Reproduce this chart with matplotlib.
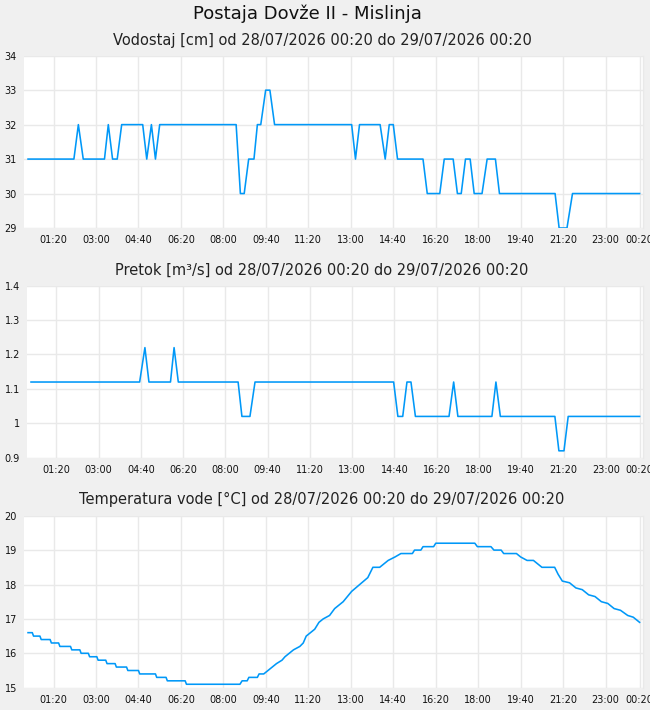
import matplotlib
matplotlib.use("Agg")
import matplotlib.pyplot as plt

# ---------------- data (minutes after 28/07/2026 00:20) ----------------
tick_minutes = [60, 160, 260, 360, 460, 560, 660, 760, 860, 960, 1060, 1160, 1260, 1360, 1440]
tick_labels = ["01:20", "03:00", "04:40", "06:20", "08:00", "09:40", "11:20", "13:00",
               "14:40", "16:20", "18:00", "19:40", "21:20", "23:00", "00:20"]

level_t = [0, 108, 118.5, 130, 180, 189, 199, 210, 220.5, 270, 279.5, 290.5, 300, 310,
           490, 500, 509, 519.5, 532, 540, 548, 559.5, 569.5, 580.5, 762, 771, 780.5,
           829, 841, 850.5, 860, 870, 930, 940, 969.5, 980, 1001, 1011, 1020, 1030,
           1041, 1050.5, 1069, 1081, 1100.5, 1110, 1241, 1250.5, 1269, 1282, 1440]
level_v = [31, 31, 32, 31, 31, 32, 31, 31, 32, 32, 31, 32, 31, 32,
           32, 30, 30, 31, 31, 32, 32, 33, 33, 32, 32, 31, 32,
           32, 31, 32, 32, 31, 31, 30, 30, 31, 31, 30, 30, 31,
           31, 30, 30, 31, 31, 30, 30, 29, 29, 30, 30]

flow_t = [0, 257, 269.5, 279, 330, 338.5, 348.5, 490, 499, 518, 530, 858, 868, 879.5,
          889.5, 899, 909.5, 989, 1000, 1010, 1090.5, 1100, 1110.5, 1239.5, 1249, 1261,
          1271, 1440]
flow_v = [1.12, 1.12, 1.22, 1.12, 1.12, 1.22, 1.12, 1.12, 1.02, 1.02, 1.12, 1.12, 1.02, 1.02,
          1.12, 1.12, 1.02, 1.02, 1.12, 1.02, 1.02, 1.12, 1.02, 1.02, 0.92, 0.92,
          1.02, 1.02]

temp_t = [0, 10, 13, 28, 31, 52, 55, 72, 75, 100, 103, 122, 125, 142, 145, 162, 165, 183,
          186, 205, 208, 232, 235, 260, 263, 300, 303, 325, 328, 370, 373, 499, 504, 516,
          520, 540, 544, 555, 565, 575, 585, 598, 605, 615, 625, 640, 648, 655, 665, 675,
          685, 695, 710, 722, 742, 762, 781, 800, 812, 828, 848, 864, 878, 905, 910, 925,
          930, 955, 960, 1052, 1058, 1090, 1097, 1114, 1120, 1150, 1160, 1175, 1190, 1200,
          1210, 1240, 1248, 1258, 1275, 1290, 1305, 1320, 1335, 1350, 1365, 1380, 1395,
          1412, 1425, 1440]
temp_v = [16.6, 16.6, 16.5, 16.5, 16.4, 16.4, 16.3, 16.3, 16.2, 16.2, 16.1, 16.1, 16.0, 16.0,
          15.9, 15.9, 15.8, 15.8, 15.7, 15.7, 15.6, 15.6, 15.5, 15.5, 15.4, 15.4, 15.3, 15.3,
          15.2, 15.2, 15.1, 15.1, 15.2, 15.2, 15.3, 15.3, 15.4, 15.4, 15.5, 15.6, 15.7, 15.8,
          15.9, 16.0, 16.1, 16.2, 16.3, 16.5, 16.6, 16.7, 16.9, 17.0, 17.1, 17.3, 17.5, 17.8,
          18.0, 18.2, 18.5, 18.5, 18.7, 18.8, 18.9, 18.9, 19.0, 19.0, 19.1, 19.1, 19.2, 19.2,
          19.1, 19.1, 19.0, 19.0, 18.9, 18.9, 18.8, 18.7, 18.7, 18.6, 18.5, 18.5, 18.3, 18.1,
          18.05, 17.9, 17.85, 17.7, 17.65, 17.5, 17.45, 17.3, 17.25, 17.1, 17.05, 16.9]

title = "Postaja Dovže II - Mislinja"
subtitles = ["Vodostaj [cm] od 28/07/2026 00:20 do 29/07/2026 00:20",
             "Pretok [m³/s] od 28/07/2026 00:20 do 29/07/2026 00:20",
             "Temperatura vode [°C] od 28/07/2026 00:20 do 29/07/2026 00:20"]
level_ticks = [29, 30, 31, 32, 33, 34]
flow_ticks = [0.9, 1.0, 1.1, 1.2, 1.3, 1.4]
flow_tick_labels = ["0.9", "1", "1.1", "1.2", "1.3", "1.4"]
temp_ticks = [15, 16, 17, 18, 19, 20]

# ---------------- drawing ----------------
W, H = 650, 710
BG = "#f0f0f0"
LINE = "#0098f8"
GRID = "#e9e9e9"

fig = plt.figure(figsize=(W / 100, H / 100), dpi=100, facecolor=BG)


def make_ax(l, r, t, b):
    ax = fig.add_axes([l / W, 1 - b / H, (r - l) / W, (b - t) / H])
    ax.set_facecolor("white")
    for name, s in ax.spines.items():
        if name == "right":
            s.set_color(GRID)
            s.set_linewidth(1.0)
        else:
            s.set_visible(False)
    ax.tick_params(length=0, labelsize=7, pad=5, colors="#111111")
    ax.grid(True, color=GRID, linewidth=1.0)
    ax.set_axisbelow(True)
    ax.set_xlim(-9.5, 1448)
    ax.set_xticks(tick_minutes)
    ax.set_xticklabels(tick_labels)
    return ax


ax1 = make_ax(24, 643, 55.7, 228)
ax1.plot(level_t, level_v, color=LINE, lw=1.15)
ax1.set_ylim(29, 34)
ax1.set_yticks(level_ticks)

ax2 = make_ax(27, 643, 285.7, 457.7)
ax2.plot(flow_t, flow_v, color=LINE, lw=1.15)
ax2.set_ylim(0.9, 1.4)
ax2.set_yticks(flow_ticks)
ax2.set_yticklabels(flow_tick_labels)

ax3 = make_ax(24, 643, 515.7, 687.7)
ax3.plot(temp_t, temp_v, color=LINE, lw=1.15)
ax3.set_ylim(15, 20)
ax3.set_yticks(temp_ticks)

fig.text(307 / W, 1 - 14 / H, title, ha="center", va="center", fontsize=13, color="#111111")
for y, s in zip([40, 270, 499], subtitles):
    fig.text(322 / W, 1 - y / H, s, ha="center", va="center", fontsize=10.5, color="#222222")

fig.savefig("out.png", dpi=100, facecolor=BG)
